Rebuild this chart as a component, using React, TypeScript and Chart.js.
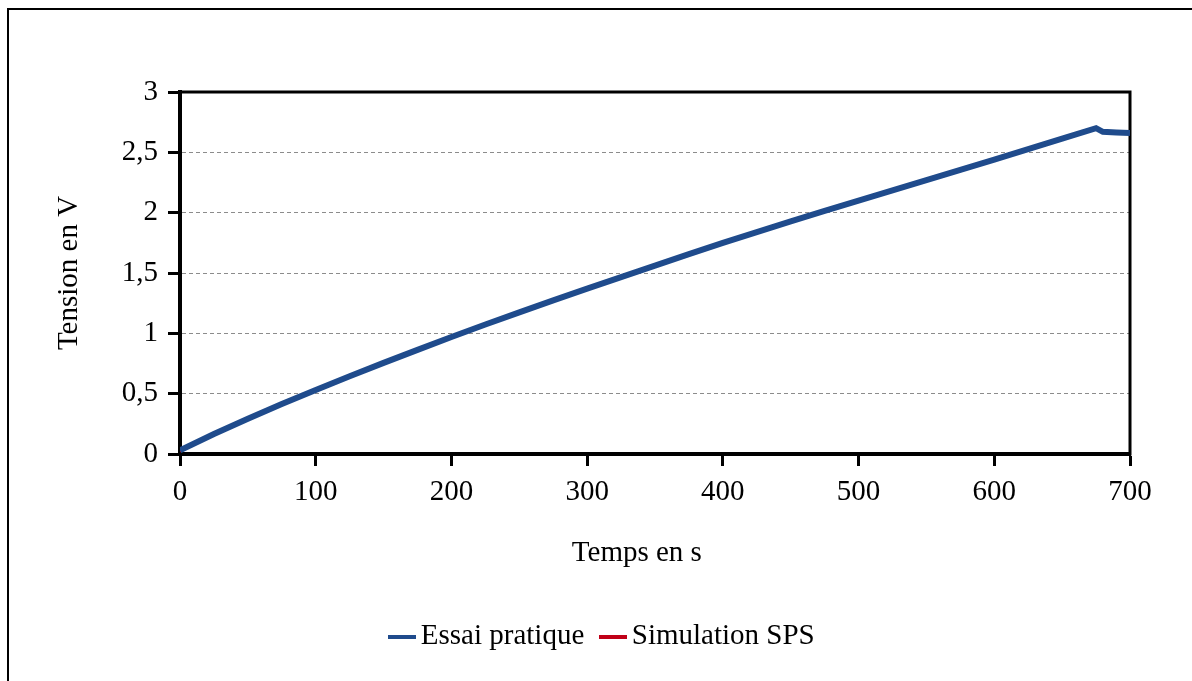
import React, { useEffect, useRef } from "react";
import { Chart, registerables } from "chart.js";

Chart.register(...registerables);

// Data
const timeS = [0, 25, 50, 75, 100, 125, 150, 175, 200, 225, 250, 275, 300, 325, 350, 375, 400, 425, 450, 475, 500, 525, 550, 575, 600, 625, 650, 675, 680, 690, 700];
const essaiV = [0.03, 0.165, 0.292, 0.414, 0.53, 0.644, 0.755, 0.863, 0.97, 1.073, 1.174, 1.273, 1.37, 1.466, 1.561, 1.656, 1.75, 1.839, 1.927, 2.014, 2.1, 2.185, 2.27, 2.355, 2.44, 2.527, 2.614, 2.7, 2.67, 2.665, 2.66];
const simulationV = [0.02, 0.156, 0.284, 0.406, 0.522, 0.636, 0.747, 0.855, 0.962, 1.065, 1.166, 1.265, 1.362, 1.458, 1.553, 1.648, 1.742, 1.831, 1.919, 2.006, 2.092, 2.177, 2.262, 2.347, 2.432, 2.519, 2.606, 2.692, 2.662, 2.657, 2.652];
const xTickValues = [0, 100, 200, 300, 400, 500, 600, 700];
const yTickLabels = ["0", "0,5", "1", "1,5", "2", "2,5", "3"];
const seriesNames = ["Essai pratique", "Simulation SPS"];
const xTitle = "Temps en s";
const yTitle = "Tension en V";

const FONT = "'Liberation Serif', 'Times New Roman', serif";
const BLUE = "#1f4b8c";
const RED = "#c00018";

const framePlugin = {
  id: "frame",
  beforeDatasetsDraw(chart: any) {
    const { ctx, chartArea } = chart;
    ctx.save();
    ctx.strokeStyle = "#000";
    ctx.lineWidth = 3;
    ctx.strokeRect(chartArea.left, chartArea.top, chartArea.right - chartArea.left, chartArea.bottom - chartArea.top);
    ctx.restore();
  },
};

function legendLine(color: string) {
  const c = document.createElement("canvas");
  c.width = 28;
  c.height = 4;
  const g = c.getContext("2d");
  if (g) {
    g.fillStyle = color;
    g.fillRect(0, 0, 28, 4);
  }
  return c;
}

export default function App() {
  const ref = useRef<HTMLCanvasElement | null>(null);

  useEffect(() => {
    if (!ref.current) return;
    const chart = new Chart(ref.current, {
      type: "line",
      data: {
        datasets: [
          {
            label: seriesNames[0],
            data: timeS.map((t, i) => ({ x: t, y: essaiV[i] })),
            borderColor: BLUE,
            backgroundColor: BLUE,
            borderWidth: 6,
            pointRadius: 0,
            tension: 0,
          },
          {
            label: seriesNames[1],
            data: timeS.map((t, i) => ({ x: t, y: simulationV[i] })),
            borderColor: RED,
            backgroundColor: RED,
            borderWidth: 2,
            pointRadius: 0,
            tension: 0,
          },
        ],
      },
      plugins: [framePlugin],
      options: {
        responsive: false,
        animation: false,
        devicePixelRatio: 1,
        layout: { padding: { top: 92, left: 20, right: 0, bottom: 20 } },
        font: { family: FONT, size: 29 },
        color: "#000",
        plugins: {
          tooltip: { enabled: false },
          legend: {
            position: "bottom",
            labels: {
              font: { family: FONT, size: 29 },
              color: "#000",
              usePointStyle: true,
              pointStyleWidth: 9,
              boxHeight: 4,
              padding: 24,
              generateLabels: (c: any) =>
                c.data.datasets.map((ds: any, i: number) => ({
                  text: ds.label,
                  fillStyle: ds.borderColor,
                  strokeStyle: ds.borderColor,
                  lineWidth: 0,
                  hidden: false,
                  datasetIndex: i,
                  fontColor: "#000",
                  pointStyle: legendLine(ds.borderColor),
                })),
            },
          },
        },
        scales: {
          x: {
            type: "linear",
            min: 0,
            max: 700,
            afterBuildTicks: (s: any) => {
              s.ticks = xTickValues.map((v) => ({ value: v }));
            },
            afterFit: (s: any) => {
              s.height = 144;
            },
            ticks: {
              font: { family: FONT, size: 29 },
              color: "#000",
              padding: 9,
              maxRotation: 0,
              callback: (v: any) => String(v),
            },
            grid: {
              drawOnChartArea: false,
              drawTicks: true,
              tickLength: 12,
              tickColor: "#000",
              tickWidth: 3,
            },
            border: { display: true, color: "#000", width: 4 },
            title: {
              display: true,
              text: xTitle + "     ",
              color: "#000",
              font: { family: FONT, size: 29, lineHeight: 1.2 },
              padding: { top: 27, bottom: 27 },
            },
          },
          y: {
            min: 0,
            max: 3,
            afterBuildTicks: (s: any) => {
              s.ticks = yTickLabels.map((_, i) => ({ value: i * 0.5 }));
            },
            afterFit: (s: any) => {
              s.width = 160;
            },
            ticks: {
              font: { family: FONT, size: 29 },
              color: "#000",
              padding: 10,
              callback: (_v: any, i: number) => yTickLabels[i],
            },
            grid: {
              color: "#8c8c8c",
              lineWidth: 1,
              drawTicks: true,
              tickLength: 12,
              tickColor: "#000",
              tickWidth: 3,
              tickBorderDash: [],
            },
            border: { display: true, color: "#000", width: 4, dash: [4, 3] },
            title: {
              display: true,
              text: yTitle,
              color: "#000",
              font: { family: FONT, size: 29, lineHeight: 1.2 },
              padding: { top: 32, bottom: 32 },
            },
          },
          yRight: {
            position: "right",
            display: true,
            min: 0,
            max: 3,
            afterFit: (s: any) => {
              s.width = 62;
            },
            ticks: { display: false },
            grid: { display: false, drawTicks: false },
            border: { display: false },
          },
        },
      } as any,
    });
    return () => chart.destroy();
  }, []);

  return (
    <div style={{ position: "fixed", left: 0, top: 0, width: 1192, height: 681, overflow: "hidden", background: "#fff" }}>
      <div style={{ position: "absolute", left: 7, top: 8, width: 1300, height: 800, border: "2px solid #000", boxSizing: "border-box" }} />
      <canvas ref={ref} width={1192} height={681} style={{ position: "absolute", left: 0, top: 0, width: 1192, height: 681 }} />
    </div>
  );
}
